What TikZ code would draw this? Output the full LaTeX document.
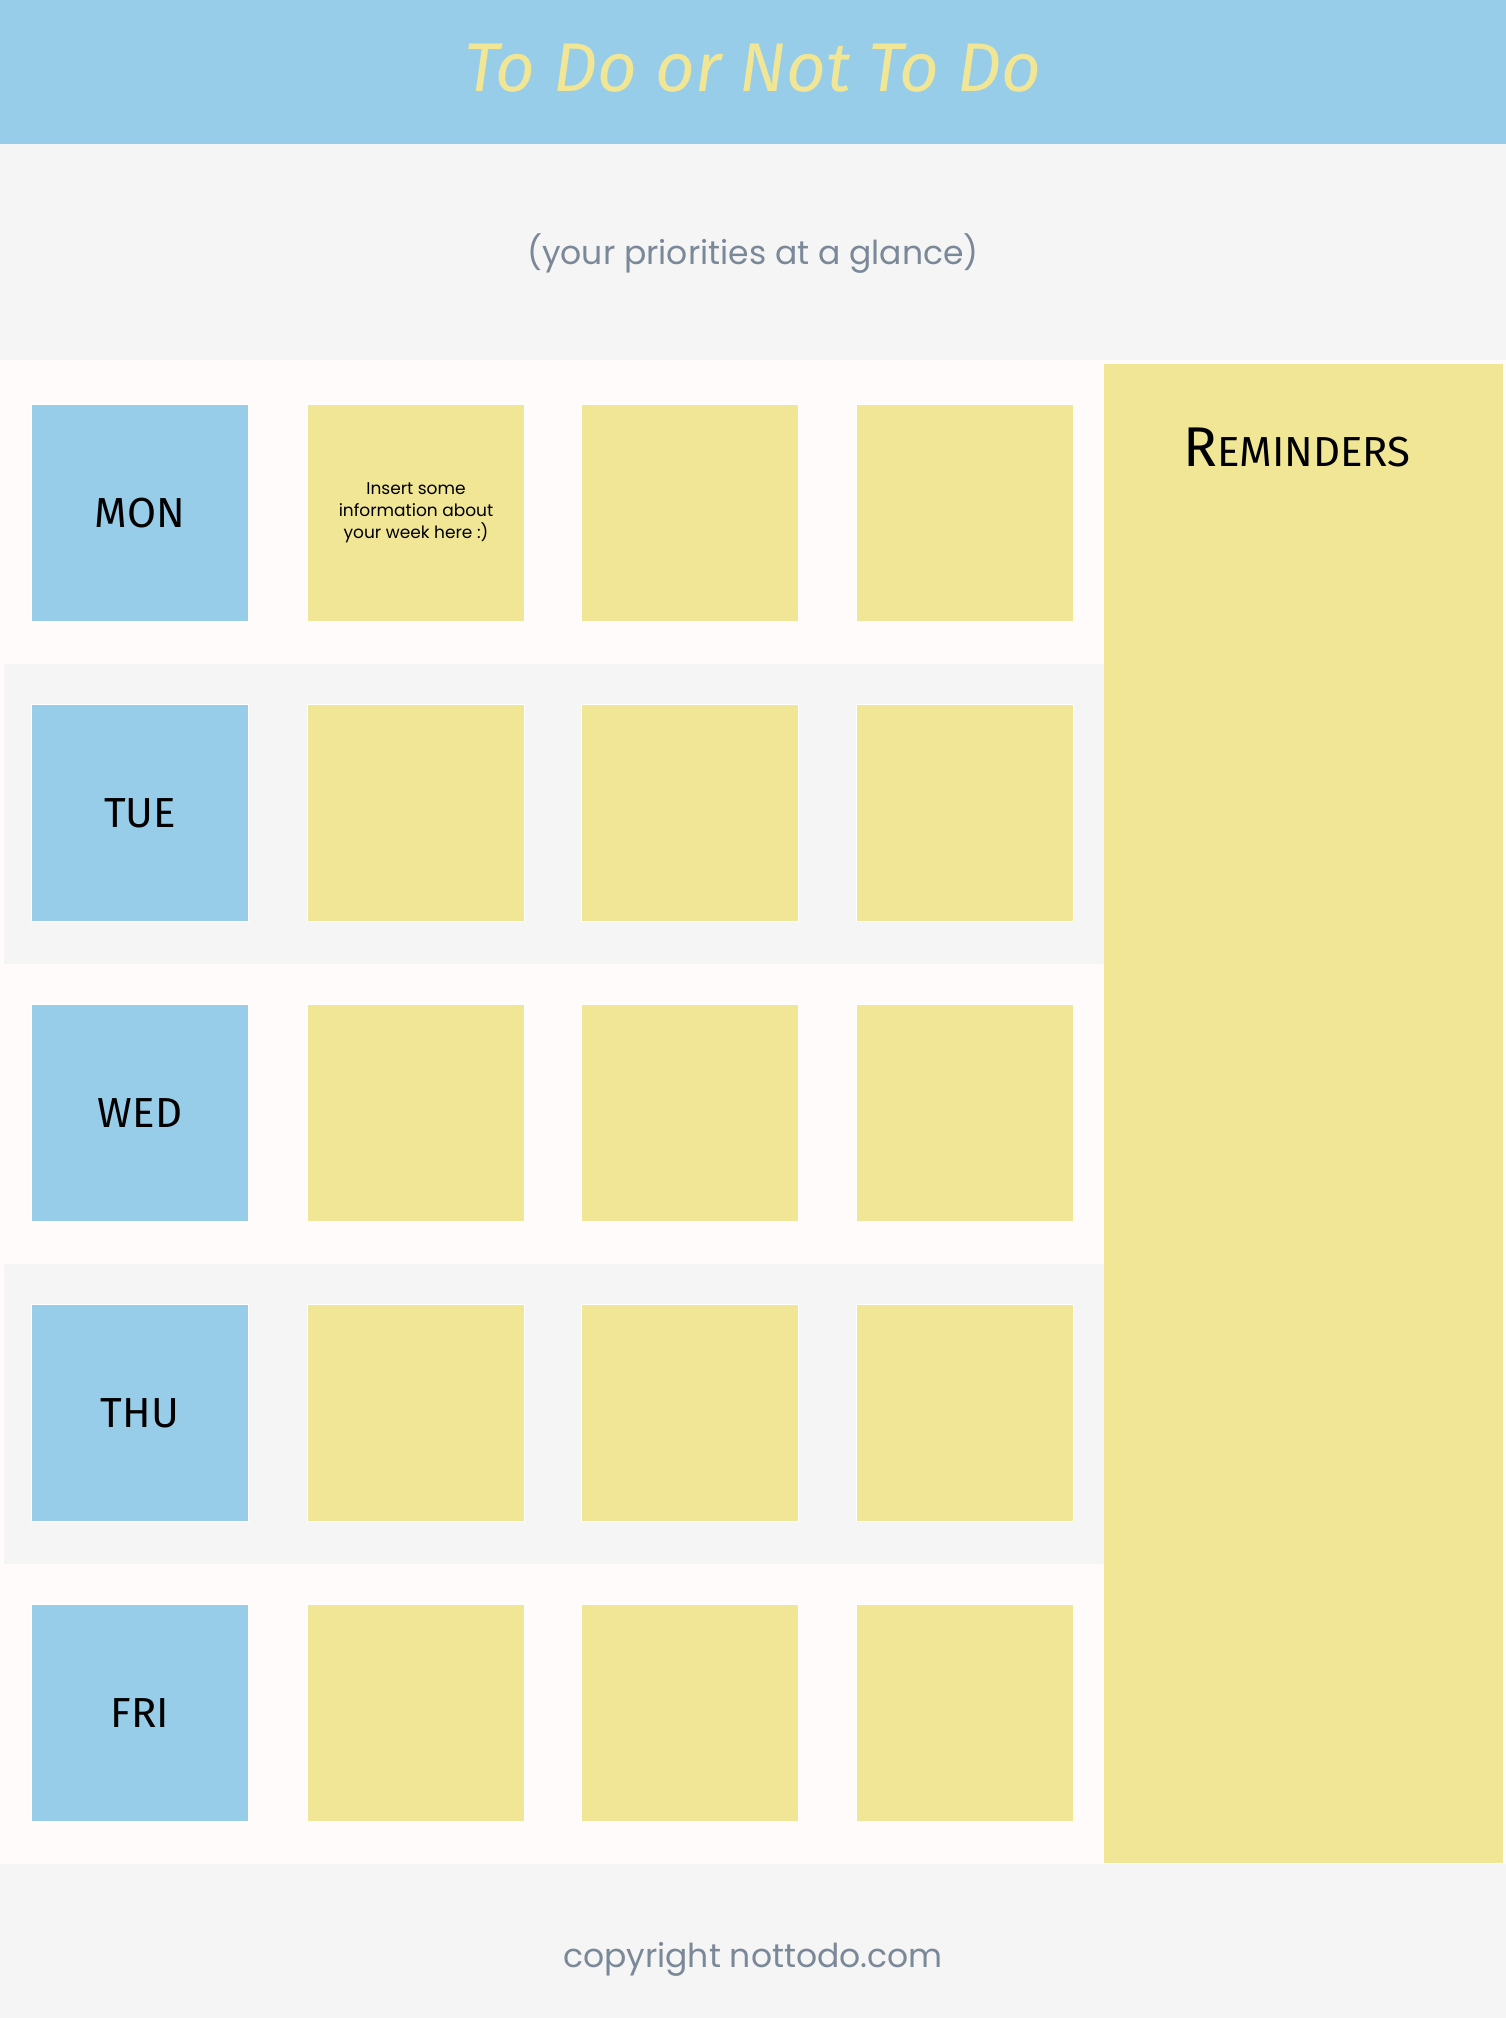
\documentclass[tikz,border=0pt]{standalone}
\usepackage{fontspec}
\setmainfont{Poppins}
\newfontfamily\handfont{Fira Sans}
\definecolor{skyblue}{HTML}{97CDE9}
\definecolor{noteyellow}{HTML}{F0E696}
\definecolor{bandgray}{HTML}{F5F5F5}
\definecolor{paper}{HTML}{FEFBFA}
\definecolor{slate}{HTML}{7B8898}
\tikzset{
  daybox/.style={fill=skyblue,draw=white,line width=1.5pt,minimum size=217pt,inner sep=0pt,
    font=\handfont\fontsize{42}{42}\selectfont},
  notebox/.style={fill=noteyellow,draw=white,line width=1.5pt,minimum size=217pt,inner sep=0pt,
    align=center,font=\fontsize{17}{22}\selectfont},
}
\begin{document}
\begin{tikzpicture}[x=1pt,y=-1pt]
\useasboundingbox (0,0) rectangle (1506,2018);
\fill[skyblue] (0,0) rectangle (1506,144);
\fill[bandgray] (0,144) rectangle (1506,360);
\fill[paper] (0,360) rectangle (1506,1864);
\fill[bandgray] (4,664) rectangle (1104,964);
\fill[bandgray] (4,1264) rectangle (1104,1564);
\fill[bandgray] (0,1864) rectangle (1506,2018);
\fill[noteyellow] (1104,364) rectangle (1503,1863);
\node[text=noteyellow,font=\handfont\itshape\fontsize{69}{69}\selectfont] (title) at (753,68) {To Do or Not To Do};
\node[text=slate,font=\fontsize{33}{33}\selectfont] (subtitle) at (753,254) {(your priorities at a glance)};
\node[font=\handfont\fontsize{56}{56}\selectfont] (reminders) at (1297,447) {R{\fontsize{42}{42}\selectfont EMINDERS}};
% monday
\node[daybox] (mon) at (140,513) {MON};
\node[notebox] (mon-1) at (416,513) {Insert some\\information about\\your week here :)};
\node[notebox] (mon-2) at (690,513) {};
\node[notebox] (mon-3) at (965,513) {};
% tuesday
\node[daybox] (tue) at (140,813) {TUE};
\node[notebox] (tue-1) at (416,813) {};
\node[notebox] (tue-2) at (690,813) {};
\node[notebox] (tue-3) at (965,813) {};
% wednesday
\node[daybox] (wed) at (140,1113) {WED};
\node[notebox] (wed-1) at (416,1113) {};
\node[notebox] (wed-2) at (690,1113) {};
\node[notebox] (wed-3) at (965,1113) {};
% thursday
\node[daybox] (thu) at (140,1413) {THU};
\node[notebox] (thu-1) at (416,1413) {};
\node[notebox] (thu-2) at (690,1413) {};
\node[notebox] (thu-3) at (965,1413) {};
% friday
\node[daybox] (fri) at (140,1713) {FRI};
\node[notebox] (fri-1) at (416,1713) {};
\node[notebox] (fri-2) at (690,1713) {};
\node[notebox] (fri-3) at (965,1713) {};
\node[text=slate,font=\fontsize{33}{33}\selectfont] (copyright) at (753,1959) {copyright nottodo.com};
\end{tikzpicture}
\end{document}
